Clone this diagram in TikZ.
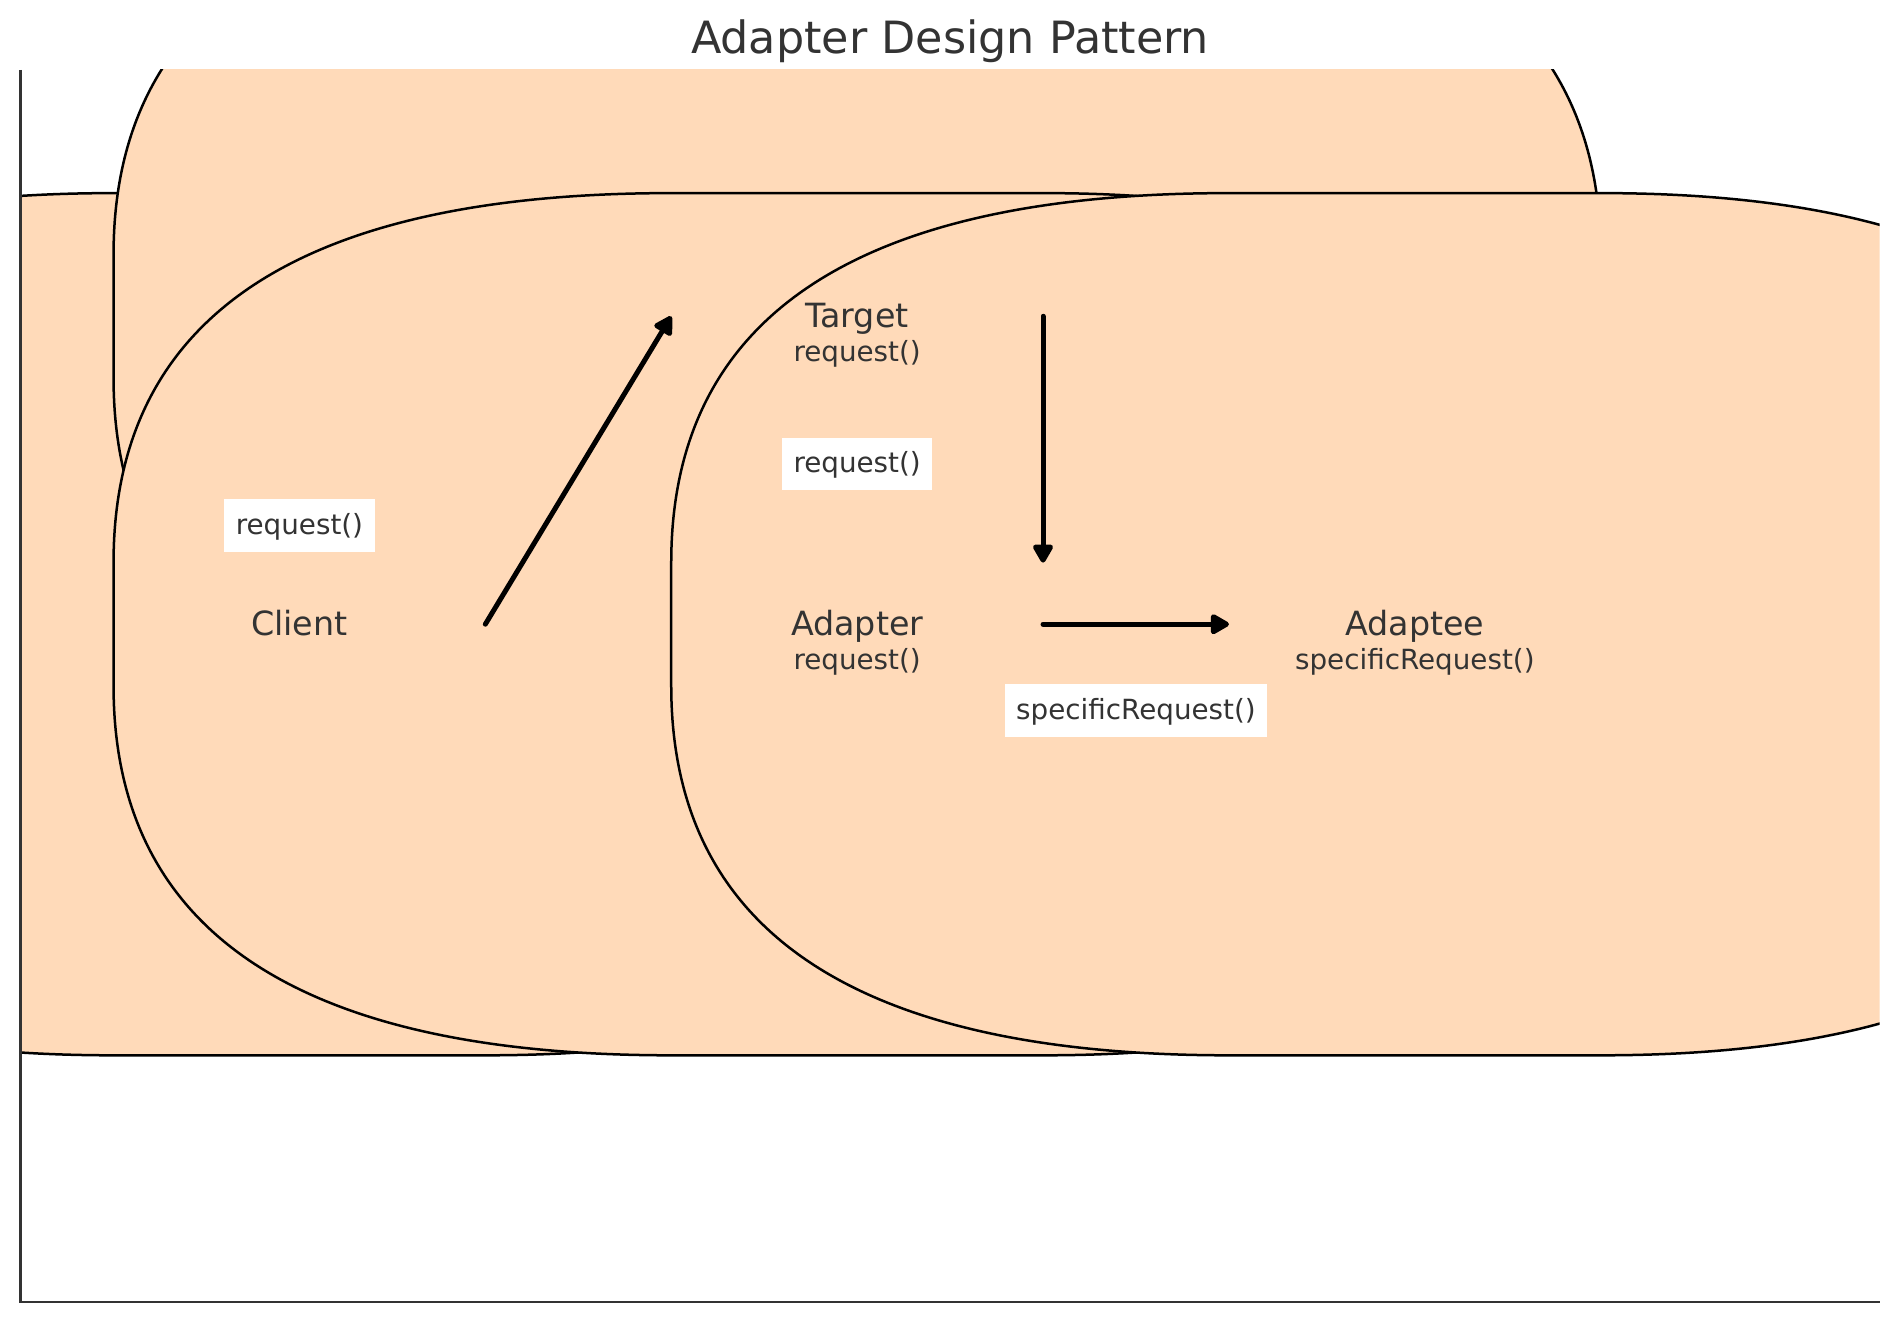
\documentclass[tikz,border=0pt]{standalone}
\usepackage{fontspec}
\setmainfont{DejaVu Sans}
\usetikzlibrary{arrows.meta}

\definecolor{peach}{HTML}{FFDAB9}
\definecolor{ink}{HTML}{333333}

\tikzset{
  boxshape/.style={draw=black,line width=0.9pt,fill=peach},
  clsname/.style={inner sep=0pt,text=ink,text height=0.9em,text depth=0.06em,font=\fontsize{12}{14}\selectfont},
  clsop/.style={inner sep=0pt,text=ink,text height=0.9em,text depth=0.28em,font=\fontsize{10}{12}\selectfont},
  msglabel/.style={fill=white,inner xsep=4.2pt,inner ysep=3.6pt,text=ink,text height=0.9em,text depth=0.28em,font=\fontsize{10}{12}\selectfont},
  flow/.style={line width=1.8pt,line cap=round,-{Triangle[length=7.5pt,width=8pt,round]}},
  spine/.style={draw=ink,line width=0.8pt}
}

% rounded class box, 8 x 7 units, corners 3 units
\newcommand{\classbox}[1]{%
  \begin{scope}[shift={#1}]
    \draw[boxshape] (-1,-3.5) -- (1,-3.5) .. controls (3,-3.5) and (4,-2.5) .. (4,-0.5)
      -- (4,0.5) .. controls (4,2.5) and (3,3.5) .. (1,3.5)
      -- (-1,3.5) .. controls (-3,3.5) and (-4,2.5) .. (-4,0.5)
      -- (-4,-0.5) .. controls (-4,-2.5) and (-3,-3.5) .. cycle;
  \end{scope}}

\begin{document}
\begin{tikzpicture}[x=66.92pt,y=44.34pt]
\useasboundingbox (-0.1108,-0.1648) rectangle (10.110,10.568);

\begin{scope}
  \clip (0,0) rectangle (10,10);
  \classbox{(1.5,5.5)}
  \classbox{(4.5,8)}
  \classbox{(4.5,5.5)}
  \classbox{(7.5,5.5)}
\end{scope}

\draw[spine] (0,10) -- (0,0) -- (10,0);

\node[anchor=base,text=ink,font=\fontsize{16}{19}\selectfont] (title) at (5,10.133) {Adapter Design Pattern};

\node[clsname] (client) at (1.5,5.5) {Client};
\node[clsname] (target) at (4.5,8) {Target};
\node[clsop] (targetop) at (4.5,7.7) {request()};
\node[clsname] (adapter) at (4.5,5.5) {Adapter};
\node[clsop] (adapterop) at (4.5,5.2) {request()};
\node[clsname] (adaptee) at (7.5,5.5) {Adaptee};
\node[clsop] (adapteeop) at (7.5,5.2) {specificRequest()};

\coordinate (clientout) at (2.5,5.5);
\coordinate (targetin) at (3.5,8);
\coordinate (targetout) at (5.5,8);
\coordinate (adapterin) at (5.5,6);
\coordinate (adapterout) at (5.5,5.5);
\coordinate (adapteein) at (6.5,5.5);

\draw[flow] (clientout) -- (targetin);
\draw[flow] (targetout) -- (adapterin);
\draw[flow] (adapterout) -- (adapteein);

\node[msglabel] (lblclient) at (1.5,6.3) {request()};
\node[msglabel] (lbltarget) at (4.5,6.8) {request()};
\node[msglabel] (lbladapter) at (6,4.8) {specificRequest()};
\end{tikzpicture}
\end{document}
